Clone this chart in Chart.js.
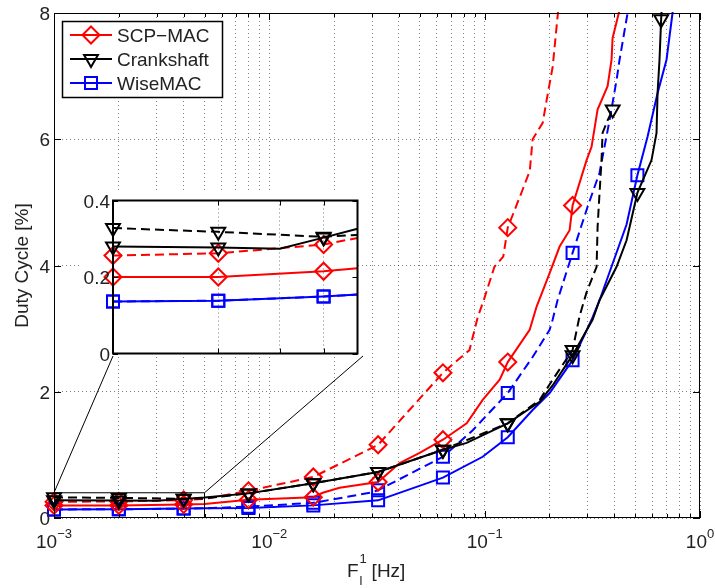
<!DOCTYPE html>
<html>
<head>
<meta charset="utf-8">
<script src="https://cdn.jsdelivr.net/npm/chart.js@4/dist/chart.umd.min.js"></script>
<style>
  body { margin: 0; background: #fff; }
  #wrap { position: relative; width: 715px; height: 588px; }
  #main { position: absolute; left: 0; top: 0; }
  #inset { position: absolute; }
</style>
</head>
<body>
<div id="wrap">
  <canvas id="main" width="715" height="588"></canvas>
  <canvas id="inset"></canvas>
</div>
<script>
// --- values: F in Hz, duty cycle in % ---
// dashed = second variant of each protocol, solid = first
const scpDashF = [0.001, 0.002, 0.004, 0.005, 0.008, 0.016, 0.032, 0.064, 0.085, 0.093, 0.099, 0.111, 0.122, 0.128, 0.150, 0.162, 0.167, 0.186, 0.194, 0.207, 0.218, 0.225];
const scpDashY = [0.256, 0.262, 0.285, 0.302, 0.43, 0.65, 1.16, 2.30, 2.66, 3.19, 3.45, 3.98, 4.14, 4.6, 5.2, 5.5, 6.0, 6.26, 6.62, 7.15, 7.94, 8.4];
const scpDashMarks = [0.001, 0.002, 0.004, 0.008, 0.016, 0.032, 0.064, 0.128];

const scpSolidF = [0.001, 0.002, 0.004, 0.005, 0.008, 0.016, 0.0177, 0.0212, 0.032, 0.0403, 0.0499, 0.064, 0.0825, 0.0979, 0.1174, 0.128, 0.1618, 0.1743, 0.2003, 0.2229, 0.248, 0.256, 0.2974, 0.3136, 0.3345, 0.3723, 0.3884, 0.3926, 0.4232, 0.44];
const scpSolidY = [0.2, 0.2, 0.215, 0.223, 0.29, 0.33, 0.40, 0.48, 0.57, 0.87, 1.03, 1.24, 1.5, 1.87, 2.19, 2.47, 2.98, 3.35, 3.88, 4.3, 4.56, 4.95, 5.67, 5.88, 6.47, 6.84, 7.26, 7.6, 8.05, 8.3];
const scpSolidMarks = [0.001, 0.002, 0.004, 0.008, 0.016, 0.032, 0.064, 0.128, 0.256];

const crankSolidF = [0.001, 0.002, 0.003, 0.004, 0.005, 0.008, 0.016, 0.032, 0.064, 0.0825, 0.128, 0.18, 0.2068, 0.256, 0.317, 0.3416, 0.4098, 0.456, 0.512, 0.5955, 0.6283, 0.6351, 0.6486, 0.66, 0.672];
const crankSolidY = [0.28, 0.277, 0.274, 0.303, 0.326, 0.39, 0.55, 0.73, 1.08, 1.19, 1.5, 1.84, 2.1, 2.58, 3.14, 3.45, 3.98, 4.4, 5.15, 5.67, 6.1, 6.73, 7.26, 7.9, 8.4];
const crankSolidMarks = [0.001, 0.002, 0.004, 0.008, 0.016, 0.032, 0.064, 0.128, 0.256, 0.512, 0.66];

const crankDashF = [0.001, 0.002, 0.004, 0.005, 0.008, 0.016, 0.032, 0.064, 0.128, 0.18, 0.2068, 0.256, 0.276, 0.297, 0.331, 0.3345, 0.3416, 0.349, 0.3528, 0.3723, 0.393];
const crankDashY = [0.328, 0.318, 0.305, 0.31, 0.39, 0.55, 0.73, 1.08, 1.5, 1.87, 2.19, 2.66, 3.2, 3.57, 3.98, 4.61, 5.15, 5.67, 6.1, 6.3, 6.47];
const crankDashMarks = [0.001, 0.002, 0.004, 0.008, 0.016, 0.032, 0.064, 0.128, 0.256, 0.393];

const wiseSolidF = [0.001, 0.002, 0.004, 0.005, 0.008, 0.016, 0.032, 0.064, 0.0979, 0.128, 0.167, 0.2003, 0.256, 0.3136, 0.3416, 0.456, 0.512, 0.5707, 0.6351, 0.699, 0.7455, 0.78];
const wiseSolidY = [0.136, 0.138, 0.149, 0.154, 0.16, 0.2, 0.28, 0.64, 0.97, 1.28, 1.71, 1.98, 2.5, 3.14, 3.45, 4.65, 5.43, 6.04, 6.73, 7.26, 8.0, 8.5];
const wiseSolidMarks = [0.001, 0.002, 0.004, 0.008, 0.016, 0.032, 0.064, 0.128, 0.256, 0.512];

const wiseDashF = [0.001, 0.002, 0.004, 0.005, 0.008, 0.016, 0.0293, 0.032, 0.064, 0.088, 0.128, 0.167, 0.2003, 0.2068, 0.218, 0.256, 0.3006, 0.3416, 0.3802, 0.4098, 0.4232, 0.461, 0.48];
const wiseDashY = [0.136, 0.138, 0.149, 0.154, 0.18, 0.24, 0.4, 0.44, 0.97, 1.39, 1.98, 2.55, 2.98, 3.14, 3.45, 4.2, 4.93, 5.47, 6.3, 6.94, 7.26, 8.0, 8.4];
const wiseDashMarks = [0.001, 0.002, 0.004, 0.008, 0.016, 0.032, 0.064, 0.128, 0.256];

const legendNames = ['SCP\u2212MAC', 'Crankshaft', 'WiseMAC'];
const xDecades = [-3, -2, -1, 0];
const yTicks = [0, 2, 4, 6, 8];
const insetXRange = [0.001, 0.005];
const insetYRange = [0, 0.4];
const insetXGrid = [0.002, 0.003, 0.004];
const insetYTicks = [0, 0.2, 0.4];

const RED = '#ff0000', BLUE = '#0000ff', BLACK = '#000000';
const FONT = '"Liberation Sans", Arial, Helvetica, sans-serif';
const GRID = 'rgba(0,0,0,0.5)';

// where the inset axes box sits on the page
const INSET = { left: 113, top: 200, right: 363, bottom: 356 };
const INSET_PAD = { left: 37, right: 5, top: 10, bottom: 8 };

// log grid: 1..9 in every decade
const mainXGrid = [];
xDecades.forEach(e => {
    for (let m = 1; m <= 9; m++) {
        if (e === 0 && m > 1) break;
        mainXGrid.push(m * Math.pow(10, e));
    }
});

function points(F, Y) {
    return F.map((f, i) => ({ x: f, y: Y[i] }));
}

function series(F, Y, marks, color, style, dashed) {
    const r = style === 'triangle' ? 8 : 8.5;
    return {
        data: points(F, Y),
        borderColor: color,
        borderWidth: 2,
        borderDash: dashed ? [9, 5] : [],
        tension: 0,
        fill: false,
        pointStyle: style,
        rotation: style === 'triangle' ? 180 : 0,
        pointRadius: ctx => marks.includes(ctx.raw.x) ? r : 0,
        pointBorderColor: color,
        pointBackgroundColor: 'rgba(0,0,0,0)',
        pointBorderWidth: 2,
        clip: { left: 12, right: 1, top: 1, bottom: 12 }
    };
}

function buildDatasets() {
    return [
        series(crankSolidF, crankSolidY, crankSolidMarks, BLACK, 'triangle', false),
        series(crankDashF, crankDashY, crankDashMarks, BLACK, 'triangle', true),
        series(scpSolidF, scpSolidY, scpSolidMarks, RED, 'rectRot', false),
        series(scpDashF, scpDashY, scpDashMarks, RED, 'rectRot', true),
        series(wiseSolidF, wiseSolidY, wiseSolidMarks, BLUE, 'rect', false),
        series(wiseDashF, wiseDashY, wiseDashMarks, BLUE, 'rect', true)
    ];
}

function drawMarker(ctx, style, x, y, color) {
    ctx.save();
    ctx.strokeStyle = color;
    ctx.lineWidth = 2;
    ctx.setLineDash([]);
    ctx.beginPath();
    if (style === 'rectRot') {
        const r = 8.5;
        ctx.moveTo(x, y - r); ctx.lineTo(x + r, y); ctx.lineTo(x, y + r); ctx.lineTo(x - r, y);
        ctx.closePath();
    } else if (style === 'triangle') {
        const r = 8, s = r * Math.sin(Math.PI / 3);
        ctx.moveTo(x, y + r); ctx.lineTo(x - s, y - r / 2); ctx.lineTo(x + s, y - r / 2);
        ctx.closePath();
    } else {
        const h = 6;
        ctx.rect(x - h, y - h, 2 * h, 2 * h);
    }
    ctx.stroke();
    ctx.restore();
}

// frame, inner ticks, labels, zoom box and legend of the main axes
const mainDecor = {
    id: 'mainDecor',
    afterDatasetsDraw(chart) {
        const { ctx, chartArea: a, scales: { x, y } } = chart;
        ctx.save();
        ctx.setLineDash([]);
        ctx.strokeStyle = '#000';
        ctx.lineWidth = 1;

        // zoomed region and the two connector lines
        const zx0 = x.getPixelForValue(insetXRange[0]), zx1 = x.getPixelForValue(insetXRange[1]);
        const zy0 = y.getPixelForValue(insetYRange[0]), zy1 = y.getPixelForValue(insetYRange[1]);
        ctx.beginPath();
        ctx.moveTo(zx0, zy1); ctx.lineTo(zx1, zy1); ctx.lineTo(zx1, zy0);
        ctx.moveTo(zx0, zy1); ctx.lineTo(INSET.left, INSET.bottom);
        ctx.moveTo(zx1, zy1); ctx.lineTo(INSET.right, INSET.bottom);
        ctx.stroke();

        // axes box
        ctx.strokeRect(a.left + 0.5, a.top + 0.5, a.right - a.left - 1, a.bottom - a.top - 1);

        // inner ticks
        ctx.beginPath();
        mainXGrid.forEach(v => {
            const px = Math.round(x.getPixelForValue(v)) + 0.5;
            const major = Math.abs(Math.log10(v) - Math.round(Math.log10(v))) < 1e-9;
            const len = major ? 7 : 4;
            ctx.moveTo(px, a.bottom); ctx.lineTo(px, a.bottom - len);
            ctx.moveTo(px, a.top); ctx.lineTo(px, a.top + len);
        });
        yTicks.forEach(v => {
            const py = Math.round(y.getPixelForValue(v)) + 0.5;
            ctx.moveTo(a.left, py); ctx.lineTo(a.left + 7, py);
            ctx.moveTo(a.right, py); ctx.lineTo(a.right - 7, py);
        });
        ctx.stroke();

        // tick labels
        ctx.fillStyle = '#222';
        ctx.textAlign = 'right';
        ctx.textBaseline = 'alphabetic';
        ctx.font = '19px ' + FONT;
        yTicks.forEach(v => {
            ctx.fillText(String(v), a.left - 4, y.getPixelForValue(v) + 7);
        });
        xDecades.forEach(e => {
            const px = x.getPixelForValue(Math.pow(10, e));
            const sup = e < 0 ? '\u2212' + Math.abs(e) : String(e);
            ctx.font = '19px ' + FONT;
            const wb = ctx.measureText('10').width;
            ctx.font = '13px ' + FONT;
            const ws = ctx.measureText(sup).width;
            const x0 = px - (wb + ws) / 2;
            ctx.textAlign = 'left';
            ctx.font = '19px ' + FONT;
            ctx.fillText('10', x0, a.bottom + 30);
            ctx.font = '13px ' + FONT;
            ctx.fillText(sup, x0 + wb, a.bottom + 20);
        });

        // axis titles
        ctx.font = '19px ' + FONT;
        ctx.textAlign = 'left';
        const cx = (a.left + a.right) / 2;
        const fx = cx - 30;
        ctx.fillText('F', fx, 577);
        const wF = ctx.measureText('F').width;
        ctx.font = '13px ' + FONT;
        ctx.fillText('1', fx + wF + 1, 563);
        ctx.fillText('l', fx + wF + 1, 585);
        ctx.font = '19px ' + FONT;
        ctx.fillText('[Hz]', fx + wF + 13, 577);

        ctx.save();
        ctx.translate(28, (a.top + a.bottom) / 2);
        ctx.rotate(-Math.PI / 2);
        ctx.textAlign = 'center';
        ctx.fillText('Duty Cycle [%]', 0, 0);
        ctx.restore();

        // legend
        const lx = 62, ly = 21, lw = 160, lh = 76;
        ctx.fillStyle = '#fff';
        ctx.fillRect(lx, ly, lw, lh);
        ctx.strokeStyle = '#000';
        ctx.lineWidth = 1.5;
        ctx.strokeRect(lx + 0.5, ly + 0.5, lw, lh);
        const rows = [
            { name: legendNames[0], color: RED, style: 'rectRot' },
            { name: legendNames[1], color: BLACK, style: 'triangle' },
            { name: legendNames[2], color: BLUE, style: 'rect' }
        ];
        rows.forEach((r, i) => {
            const ry = 35 + i * 24;
            ctx.strokeStyle = r.color;
            ctx.lineWidth = 2;
            ctx.beginPath();
            ctx.moveTo(70, ry); ctx.lineTo(112, ry);
            ctx.stroke();
            drawMarker(ctx, r.style, 91, ry, r.color);
            ctx.fillStyle = '#222';
            ctx.font = '19px ' + FONT;
            ctx.textAlign = 'left';
            ctx.fillText(r.name, 117, ry + 7);
        });
        ctx.restore();
    }
};

// white backing, frame, ticks and labels of the inset axes
const insetDecor = {
    id: 'insetDecor',
    beforeDraw(chart) {
        const { ctx, chartArea: a } = chart;
        ctx.save();
        ctx.fillStyle = '#fff';
        ctx.fillRect(a.left - 33, a.top - 8, a.right - a.left + 33, a.bottom - a.top + 8);
        ctx.restore();
    },
    afterDatasetsDraw(chart) {
        const { ctx, chartArea: a, scales: { x, y } } = chart;
        ctx.save();
        ctx.setLineDash([]);
        ctx.strokeStyle = '#000';
        ctx.lineWidth = 1;
        ctx.beginPath();
        insetXGrid.forEach(v => {
            const px = Math.round(x.getPixelForValue(v)) + 0.5;
            ctx.moveTo(px, a.bottom); ctx.lineTo(px, a.bottom - 5);
            ctx.moveTo(px, a.top); ctx.lineTo(px, a.top + 5);
        });
        insetYTicks.forEach(v => {
            const py = Math.round(y.getPixelForValue(v)) + 0.5;
            ctx.moveTo(a.left, py); ctx.lineTo(a.left + 5, py);
            ctx.moveTo(a.right, py); ctx.lineTo(a.right - 5, py);
        });
        ctx.stroke();
        ctx.lineWidth = 2;
        ctx.strokeRect(a.left, a.top, a.right - a.left, a.bottom - a.top);

        ctx.fillStyle = '#222';
        ctx.font = '19px ' + FONT;
        ctx.textAlign = 'right';
        insetYTicks.forEach(v => {
            ctx.fillText(String(v), a.left - 3, y.getPixelForValue(v) + 7);
        });
        ctx.restore();
    }
};

function axisOptions(type, min, max, tickList, showGrid) {
    return {
        type: type,
        min: min,
        max: max,
        afterBuildTicks: s => { s.ticks = tickList.map(v => ({ value: v })); },
        ticks: { display: false },
        grid: { display: showGrid, color: GRID, lineWidth: 1, drawTicks: false },
        border: { display: false, dash: [1, 3] }
    };
}

new Chart(document.getElementById('main'), {
    type: 'line',
    data: { datasets: buildDatasets() },
    options: {
        responsive: false,
        animation: false,
        events: [],
        layout: { padding: { left: 54, right: 15, top: 13, bottom: 70 } },
        plugins: { legend: { display: false }, tooltip: { enabled: false } },
        scales: {
            x: axisOptions('logarithmic', 0.001, 1, mainXGrid, true),
            y: axisOptions('linear', 0, 8, yTicks, true)
        }
    },
    plugins: [mainDecor]
});

// inset: same data, zoomed on the low-rate corner
const insetCanvas = document.getElementById('inset');
const insetW = INSET.right - INSET.left + INSET_PAD.left + INSET_PAD.right;
const insetH = INSET.bottom - INSET.top + INSET_PAD.top + INSET_PAD.bottom;
insetCanvas.width = insetW;
insetCanvas.height = insetH;
insetCanvas.style.left = (INSET.left - INSET_PAD.left) + 'px';
insetCanvas.style.top = (INSET.top - INSET_PAD.top) + 'px';

new Chart(insetCanvas, {
    type: 'line',
    data: { datasets: buildDatasets() },
    options: {
        responsive: false,
        animation: false,
        events: [],
        layout: { padding: INSET_PAD },
        plugins: { legend: { display: false }, tooltip: { enabled: false } },
        scales: {
            x: axisOptions('logarithmic', insetXRange[0], insetXRange[1], insetXGrid, true),
            y: axisOptions('linear', insetYRange[0], insetYRange[1], insetYTicks, false)
        }
    },
    plugins: [insetDecor]
});
</script>
</body>
</html>
